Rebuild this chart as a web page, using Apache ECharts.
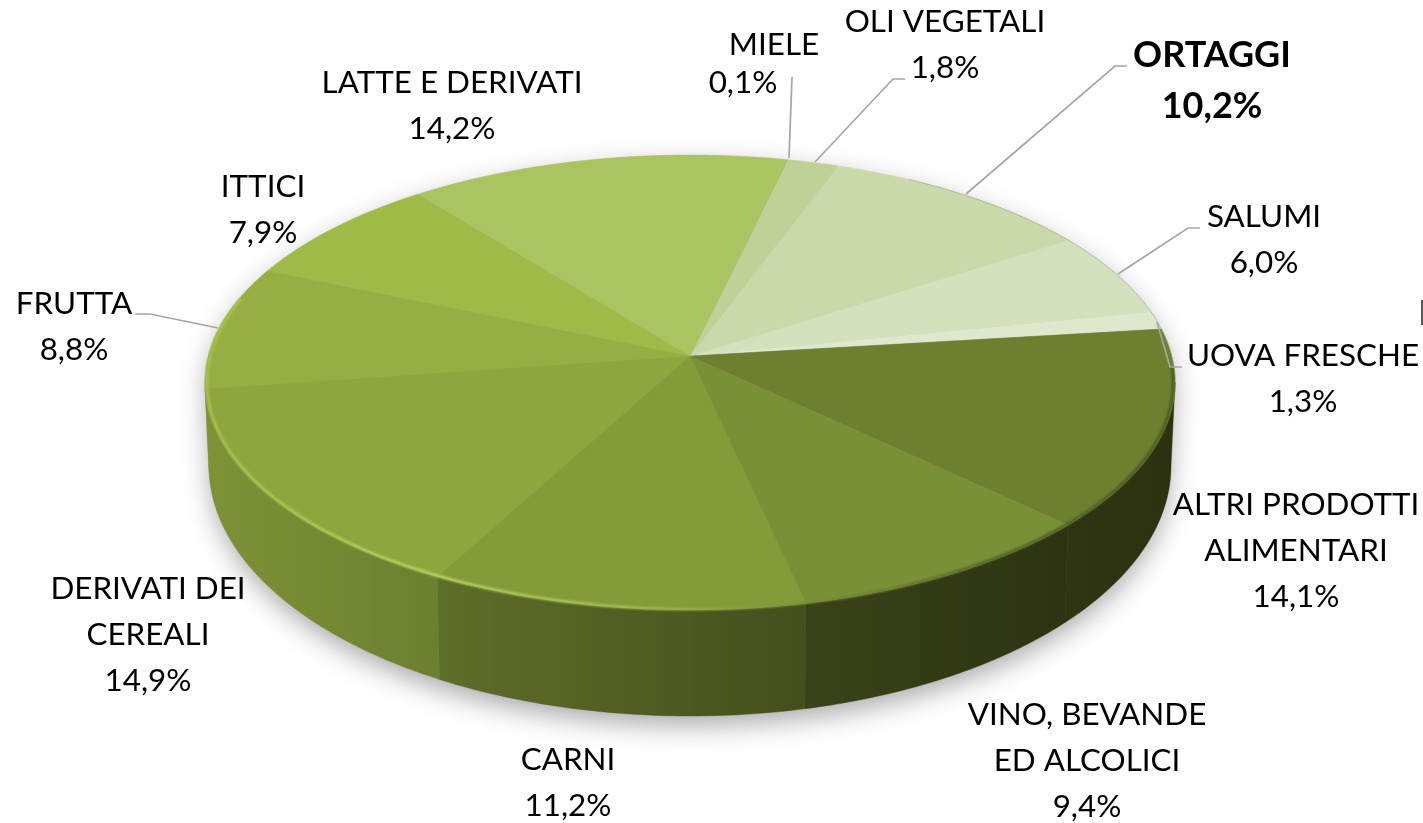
<!DOCTYPE html>
<html>
<head>
<meta charset="utf-8">
<style>html,body{margin:0;padding:0;background:#fff}#c{width:1423px;height:823px}</style>
<script src="https://cdn.jsdelivr.net/npm/echarts@6/dist/echarts.min.js"></script>
</head>
<body>
<div id="c"></div>
<script>
// clockwise from the Miele slice
const categories = ['MIELE','OLI VEGETALI','ORTAGGI','SALUMI','UOVA FRESCHE','ALTRI PRODOTTI\nALIMENTARI','VINO, BEVANDE\nED ALCOLICI','CARNI','DERIVATI DEI\nCEREALI','FRUTTA','ITTICI','LATTE E DERIVATI'];
const shares = [0.1,1.8,10.2,6.0,1.3,14.1,9.4,11.2,14.9,8.8,7.9,14.2];
const faceColors = ['#c3d39a','#c0d197','#cbd8aa','#d5e0bc','#dfe7cc','#6e8030','#7a9036','#859b3a','#8fa53e','#97af42','#a0ba48','#abc462'];
const wallLeft = ['#000','#000','#000','#000','#000','#2f3512','#394318','#5f6e29','#7e9337','#7e9337','#000','#000'];
const wallRight = ['#000','#000','#000','#000','#000','#2c3110','#2d3312','#434f1d','#6d7f30','#7e9337','#000','#000'];
const labelX = [774,945,1212,1264,1303,1296,1087,568,148,74,263,452];
const labelY = [45,22,55,217,356,505,715,760,589,304,187,83];
const valueDx = [-31,0,0,0,0,0,0,0,0,0,0,0];
const leaders = [
  [[792,77],[789,158]],
  [[905,79],[893,79],[815,162]],
  [[1127,66],[1115,66],[966,194]],
  [[1200,228],[1188,228],[1118,274]],
  [[1182,367],[1170,367],[1157,322]],
  [[135,314],[150,314],[218,328]]
];

// Perspective disc: circle -> projected ellipse, hub above the ellipse centre
const CX = 690, HUB_Y = 356, A = 481.7, B = 224.4, K = 0.1165, START_DEG = 13.1;
const BOT_CY = 466, BOT_RX = 481, BOT_RY = 250, TOP_RX = 485, TOP_CY = 382.5;
const rad = d => d * Math.PI / 180;
function project(deg) {
  const u = Math.sin(rad(deg)), v = Math.cos(rad(deg)), d = 1 + K * v;
  return [CX + A * u / d, HUB_Y - B * v / d];
}
function bottomOf(p) {
  const x = (p[0] - CX) * BOT_RX / TOP_RX;
  const q = Math.max(0, 1 - (x / BOT_RX) * (x / BOT_RX));
  return [CX + x, BOT_CY + BOT_RY * Math.sqrt(q)];
}
const FRONT_A = Math.acos(-K) * 180 / Math.PI, FRONT_B = 360 - FRONT_A;
const cum = [];
shares.reduce((s, v, i) => { cum[i] = s; return s + v; }, 0);
const total = shares.reduce((a, b) => a + b, 0);
const startOf = i => START_DEG + 360 * cum[i] / total;
const endOf = i => startOf(i) + 360 * shares[i] / total;
function arc(a0, a1, step) {
  const n = Math.max(2, Math.ceil(Math.abs(a1 - a0) / (step || 0.75)));
  const pts = [];
  for (let j = 0; j <= n; j++) pts.push(project(a0 + (a1 - a0) * j / n));
  return pts;
}
const fmt = v => v.toFixed(1).replace('.', ',') + '%';
const hGrad = (x0, x1, stops) => ({type:'linear', x:x0, y:0, x2:x1, y2:0, global:true, colorStops:stops});
const inset = (t, f) => [t[0] + (CX - t[0]) * f, t[1] + (TOP_CY - t[1]) * f];

const rows = shares.map((v, i) => [i, v]);
const series = [];
function layer(z, data, renderItem) {
  series.push({type:'custom', coordinateSystem:'none', silent:true, z:z, data:data, renderItem:renderItem, animation:false});
}

// soft cast shadow
layer(1, [[0]], () => {
  const front = arc(FRONT_A, FRONT_B, 1).map(bottomOf);
  const back = arc(FRONT_B, FRONT_A + 360, 1);
  const pts = back.concat(front).map(t => inset(t, 0.006));
  return {type:'polygon', shape:{points: pts},
    style:{fill:'#8f8f8f', shadowBlur:28, shadowColor:'rgba(0,0,0,0.36)', shadowOffsetX:0, shadowOffsetY:10}};
});

// side walls
layer(2, rows, (p, api) => {
  const i = api.value(0);
  const a0 = Math.max(startOf(i), FRONT_A), a1 = Math.min(endOf(i), FRONT_B);
  if (a1 <= a0) return {type:'group', children:[]};
  const top = arc(a0, a1);
  const bot = top.map(bottomOf).reverse();
  const xs = top.map(t => t[0]);
  return {type:'polygon', shape:{points: top.concat(bot)},
    style:{fill: hGrad(Math.min(...xs), Math.max(...xs), [{offset:0,color:wallLeft[i]},{offset:1,color:wallRight[i]}]),
      stroke: wallRight[i], lineWidth:0.4}};
});

// top faces
layer(3, rows, (p, api) => {
  const i = api.value(0);
  return {type:'polygon', shape:{points: [[CX, HUB_Y]].concat(arc(startOf(i), endOf(i)))},
    style:{fill: faceColors[i], stroke: faceColors[i], lineWidth:0.5}};
});

// bevel highlight along the front edge: stacked strokes read as a soft band
layer(4, [[6,0.18],[4,0.3],[2,0.7]], (p, api) => {
  const w = api.value(0), op = api.value(1);
  const pts = arc(FRONT_B + 22, FRONT_A - 4, 1).map(t => inset(t, 0.004));
  return {type:'polyline', shape:{points: pts},
    style:{fill:null, opacity:op, lineWidth:w, lineCap:'butt',
      stroke: hGrad(CX - TOP_RX, CX + TOP_RX, [
        {offset:0,color:'#a3c24a'},{offset:0.24,color:'#b6d360'},{offset:0.45,color:'#a0b850'},
        {offset:0.62,color:'#7c9034'},{offset:0.8,color:'#566828'},{offset:1,color:'#4b5a22'}])}};
});

// pale rim on the far edge
layer(4, [[0]], () => ({type:'polyline', shape:{points: arc(30, 92, 1)},
  style:{fill:null, stroke:'rgba(150,160,130,0.55)', lineWidth:1}}));

// leader lines
layer(5, leaders.map((l, i) => [i]), (p, api) => ({type:'polyline', shape:{points: leaders[api.value(0)]},
  style:{fill:null, stroke:'#a6a6a6', lineWidth:1.7}}));

// labels
layer(6, rows, (p, api) => {
  const i = api.value(0);
  const lines = categories[i].split('\n');
  const bold = categories[i] === 'ORTAGGI';
  const font = (bold ? 'bold 36px' : '31.4px') + ' Lato, sans-serif';
  const step = bold ? 51 : 46;
  const all = lines.concat([fmt(api.value(1))]);
  return {type:'group', children: all.map((t, n) => ({type:'text',
    style:{text:t, x: labelX[i] + (n === all.length - 1 ? valueDx[i] : 0), y: labelY[i] + n * (i === 0 ? 38 : step),
      align:'center', verticalAlign:'middle', font:font, fill:'#000'}}))};
});

// stray edge mark at the right border of the picture
layer(6, [[0]], () => ({type:'line', shape:{x1:1422, y1:300, x2:1422, y2:325}, style:{stroke:'#5a5a5a', lineWidth:2}}));

const chart = echarts.init(document.getElementById('c'), null, {renderer:'canvas'});
chart.setOption({backgroundColor:'#fff', animation:false, series:series});
</script>
</body>
</html>
